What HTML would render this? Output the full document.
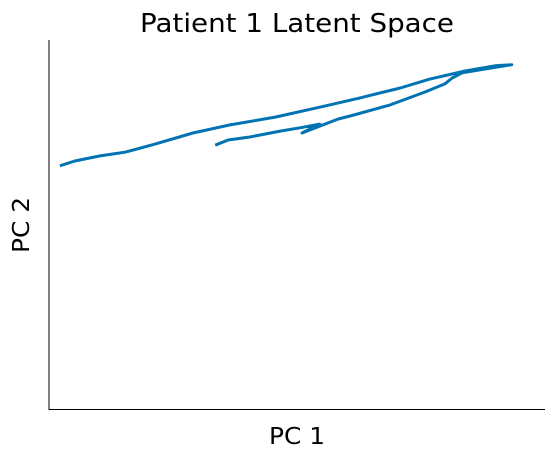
<!DOCTYPE html>
<html><head><meta charset="utf-8"><style>
body{margin:0;background:#fff;}
svg{display:block;font-family:"DejaVu Sans","Liberation Sans",sans-serif;}
</style></head><body>
<svg id="chart" width="555" height="459" viewBox="0 0 555 459">
<text x="297" y="32" font-size="26" text-anchor="middle" textLength="314" lengthAdjust="spacingAndGlyphs" fill="#000">Patient 1 Latent Space</text>
<line x1="49" y1="40" x2="49" y2="409.5" stroke="#000" stroke-width="1"/>
<line x1="48.5" y1="409.5" x2="545" y2="409.5" stroke="#000" stroke-width="1"/>
<text x="297" y="444" font-size="23" text-anchor="middle" textLength="56" lengthAdjust="spacingAndGlyphs">PC 1</text>
<text x="29" y="225" font-size="23" text-anchor="middle" textLength="56" lengthAdjust="spacingAndGlyphs" transform="rotate(-90 29 225)">PC 2</text>
<g id="series"></g>
</svg>
<script>
const pc1 = [2.2,5.2,10.3,15.3,21.4,29.0,36.5,45.6,54.6,62.7,70.8,76.8,83.9,89.9,93.3,90.5,83.3,81.3,79.8,75.8,68.8,60.7,58.3,51.0,54.6,50.6,46.6,40.5,36.1,33.5];
const pc2 = [65.9,67.2,68.6,69.6,71.8,74.8,77.0,79.1,81.8,84.3,87.0,89.4,91.6,93.0,93.3,92.7,91.1,89.7,88.1,85.9,82.4,79.4,78.6,74.8,77.2,76.2,75.3,73.7,72.9,71.5];
const X0=49, X1=545, Y0=409, Y1=40;
const xs = v => X0 + v/100*(X1-X0);
const ys = v => Y0 - v/100*(Y0-Y1);
let d = pc1.map((v,i)=>(i?'L':'M')+xs(v).toFixed(1)+' '+ys(pc2[i]).toFixed(1)).join(' ');
const p = document.createElementNS('http://www.w3.org/2000/svg','path');
p.setAttribute('d', d);
p.setAttribute('fill','none');
p.setAttribute('stroke','#0173b2');
p.setAttribute('stroke-width','3');
p.setAttribute('stroke-linejoin','round');


document.getElementById('series').appendChild(p);
</script>
</body></html>
